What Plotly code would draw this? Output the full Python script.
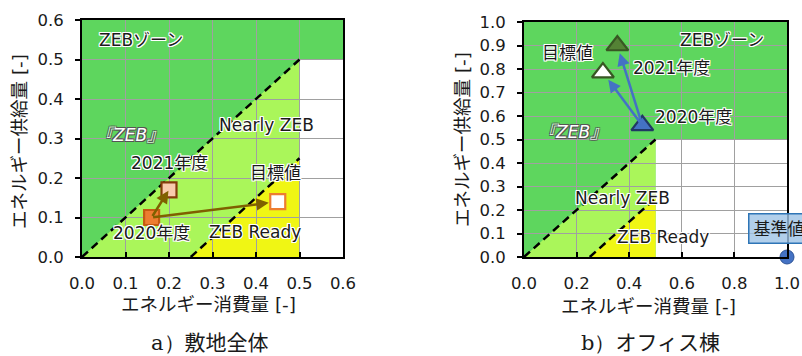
import plotly.graph_objects as go

W, H = 802, 356
FONT = "DejaVu Sans, Noto Sans CJK JP"
CJK = "Noto Sans CJK JP"

# ZEB classification thresholds (normalized by the reference building)
ready_limit = 0.5    # consumption limit of ZEB Ready
nearly_net = 0.25    # net consumption limit of Nearly ZEB

# a) whole site: 2020, 2021, target
site_names = ["2020年度", "2021年度", "目標値"]
site_x = [0.16, 0.20, 0.45]
site_y = [0.10, 0.17, 0.14]

# b) office building: 2020, 2021, target
office_names = ["2020年度", "2021年度", "目標値"]
office_x = [0.45, 0.355, 0.30]
office_y = [0.56, 0.90, 0.785]

# reference value
base_x = [1.0]
base_y = [0.0]

x_ticks_a = [0.0, 0.1, 0.2, 0.3, 0.4, 0.5, 0.6]
y_ticks_a = [0.0, 0.1, 0.2, 0.3, 0.4, 0.5, 0.6]
x_ticks_b = [0.0, 0.2, 0.4, 0.6, 0.8, 1.0]
y_ticks_b = [0.0, 0.1, 0.2, 0.3, 0.4, 0.5, 0.6, 0.7, 0.8, 0.9, 1.0]

DARK_GREEN = "rgb(94,214,94)"
LIGHT_GREEN = "rgb(170,246,90)"
YELLOW = "rgb(240,246,20)"

HALO = "-1px -1px 0 #fff, 1px -1px 0 #fff, -1px 1px 0 #fff, 1px 1px 0 #fff, 0 1px 0 #fff, 0 -1px 0 #fff, 1px 0 0 #fff, -1px 0 0 #fff"
DARK_HALO = "-1px -1px 0 #555, 1px -1px 0 #555, -1px 1px 0 #555, 1px 1px 0 #555"


def px_x(p):
    return p / W


def px_y(p):
    return 1 - p / H


fig = go.Figure()
shapes = []
annotations = []


def zones(xr, yr, xmax, ymax):
    """Colored ZEB classification regions for one panel."""
    common = dict(xref=xr, yref=yr, layer="below", line=dict(width=0))
    shapes.append(dict(type="rect", x0=0, y0=0, x1=xmax, y1=ymax, fillcolor=DARK_GREEN, **common))
    shapes.append(dict(type="rect", x0=ready_limit, y0=0, x1=xmax, y1=ready_limit, fillcolor="white", **common))
    shapes.append(dict(type="path",
                       path=f"M 0 0 L {ready_limit} {ready_limit} L {ready_limit} 0 Z",
                       fillcolor=LIGHT_GREEN, **common))
    shapes.append(dict(type="path",
                       path=f"M {nearly_net} 0 L {ready_limit} {ready_limit - nearly_net} L {ready_limit} 0 Z",
                       fillcolor=YELLOW, **common))


def boundaries(xa, ya):
    for x0, x1, y1 in [(0, ready_limit, ready_limit), (nearly_net, ready_limit, ready_limit - nearly_net)]:
        fig.add_trace(go.Scatter(x=[x0, x1], y=[0, y1], mode="lines", xaxis=xa, yaxis=ya,
                                 line=dict(color="black", width=2.5, dash="8px,5px"),
                                 showlegend=False, hoverinfo="skip", cliponaxis=False))


def label(text, x, y, xr, yr, size=17, italic=False, color="#1a1a1a", shadow=HALO):
    annotations.append(dict(text=text, x=x, y=y, xref=xr, yref=yr, showarrow=False,
                            font=dict(family=FONT, size=size, color=color, shadow=shadow,
                                      style="italic" if italic else "normal"),
                            xanchor="center", yanchor="middle"))


def arrow(x0, y0, x1, y1, xr, yr, color, standoff):
    annotations.append(dict(text="", x=x1, y=y1, ax=x0, ay=y0, xref=xr, yref=yr,
                            axref=xr, ayref=yr, showarrow=True, arrowhead=2, arrowsize=1,
                            arrowwidth=2.5, arrowcolor=color, standoff=standoff, startstandoff=0))


# ---- panel a) ----
zones("x", "y", 0.6, 0.6)
boundaries("x", "y")
arrow(site_x[0], site_y[0], site_x[1], site_y[1], "x", "y", "#7F6000", 1)
arrow(site_x[0], site_y[0], site_x[2], site_y[2], "x", "y", "#7F6000", 9)
fig.add_trace(go.Scatter(
    x=site_x, y=site_y, mode="markers", xaxis="x", yaxis="y", showlegend=False,
    marker=dict(symbol="square", size=15,
                color=["#ED7D31", "#F8CBAD", "white"],
                line=dict(width=2.2, color=["#C55A11", "#843C0C", "#ED7D31"])),
    cliponaxis=False))

label("ZEBゾーン", 0.136, 0.549, "x", "y")
label("『ZEB』", 0.110, 0.309, "x", "y", italic=True, color="white", shadow=DARK_HALO)
label("Nearly ZEB", 0.425, 0.334, "x", "y")
label(site_names[1], 0.20, 0.238, "x", "y")
label(site_names[2], 0.444, 0.213, "x", "y")
label(site_names[0], 0.159, 0.061, "x", "y")
label("ZEB Ready", 0.398, 0.063, "x", "y")

# ---- panel b) ----
zones("x2", "y2", 1.0, 1.0)
boundaries("x2", "y2")
arrow(office_x[0], office_y[0], office_x[1], office_y[1], "x2", "y2", "#4472C4", 8)
arrow(office_x[0], office_y[0], office_x[2], office_y[2], "x2", "y2", "#4472C4", 9)
fig.add_trace(go.Scatter(
    x=office_x, y=office_y, mode="markers", xaxis="x2", yaxis="y2", showlegend=False,
    marker=dict(symbol="triangle-up", size=19,
                color=["#4472C4", "#548235", "white"],
                line=dict(width=2.2, color=["#203864", "#385723", "#385723"])),
    cliponaxis=False))
fig.add_trace(go.Scatter(
    x=base_x, y=base_y, mode="markers", xaxis="x2", yaxis="y2", showlegend=False,
    marker=dict(symbol="circle", size=14, color="#4472C4", line=dict(width=1, color="#2F5597")),
    cliponaxis=False))

label("ZEBゾーン", 0.753, 0.923, "x2", "y2")
label(office_names[2], 0.167, 0.868, "x2", "y2")
label(office_names[1], 0.559, 0.804, "x2", "y2")
label(office_names[0], 0.646, 0.596, "x2", "y2")
label("『ZEB』", 0.186, 0.532, "x2", "y2", italic=True, color="white", shadow=DARK_HALO)
label("Nearly ZEB", 0.376, 0.251, "x2", "y2")
label("ZEB Ready", 0.529, 0.085, "x2", "y2")
annotations.append(dict(text="基準値", x=0.852, y=0.123, xref="x2", yref="y2", showarrow=False,
                        xanchor="left", yanchor="middle",
                        font=dict(family=FONT, size=17, color="#1a1a1a"),
                        bgcolor="rgba(157,195,230,0.8)", bordercolor="#2E75B6",
                        borderwidth=1.5, borderpad=4))

# ---- axis titles and panel captions ----
title_font = dict(family=FONT, size=18.5, color="#1a1a1a")
for cx, cy in [(209, 304), (648, 306)]:
    annotations.append(dict(text="エネルギー消費量 [-]", x=px_x(cx), y=px_y(cy), xref="paper", yref="paper",
                            showarrow=False, font=title_font, xanchor="center", yanchor="middle"))
for cx, cy in [(19, 142), (462, 140)]:
    annotations.append(dict(text="エネルギー供給量 [-]", x=px_x(cx), y=px_y(cy), xref="paper", yref="paper",
                            showarrow=False, font=title_font, textangle=-90,
                            xanchor="center", yanchor="middle"))
for tag, txt, cx in [("a）", "敷地全体", 210), ("b）", "オフィス棟", 650)]:
    annotations.append(dict(text=f"<span style='font-family:DejaVu Serif'>{tag}</span>{txt}",
                            x=px_x(cx), y=px_y(341), xref="paper", yref="paper",
                            showarrow=False, font=dict(family=CJK, size=21, color="#1a1a1a"),
                            xanchor="center", yanchor="middle"))

tick_font = dict(family=FONT, size=16.5, color="#1a1a1a")
axis_common = dict(showgrid=True, gridcolor="#A0A0A0", gridwidth=1, zeroline=False,
                   showline=True, linecolor="black", linewidth=2, mirror=True,
                   tickfont=tick_font, tickcolor="black", ticklen=5, tickwidth=1.5,
                   tickformat=".1f", fixedrange=True, automargin=False)

fig.update_layout(
    width=W, height=H, margin=dict(l=0, r=0, t=0, b=0, autoexpand=False),
    paper_bgcolor="white", plot_bgcolor="rgba(0,0,0,0)",
    showlegend=False,
    xaxis=dict(domain=[px_x(82), px_x(343)], range=[0, 0.6], tickvals=x_ticks_a,
               ticks="inside", anchor="y", ticklabelstandoff=10, **axis_common),
    yaxis=dict(domain=[px_y(257), px_y(20)], range=[0, 0.6], tickvals=y_ticks_a,
               ticks="outside", anchor="x", ticklabelstandoff=8, **axis_common),
    xaxis2=dict(domain=[px_x(524), px_x(787)], range=[0, 1.0], tickvals=x_ticks_b,
                ticks="inside", anchor="y2", ticklabelstandoff=10, **axis_common),
    yaxis2=dict(domain=[px_y(257), px_y(22)], range=[0, 1.0], tickvals=y_ticks_b,
                ticks="outside", anchor="x2", ticklabelstandoff=8, **axis_common),
    shapes=shapes,
    annotations=annotations,
)

fig.write_html("out.html")
